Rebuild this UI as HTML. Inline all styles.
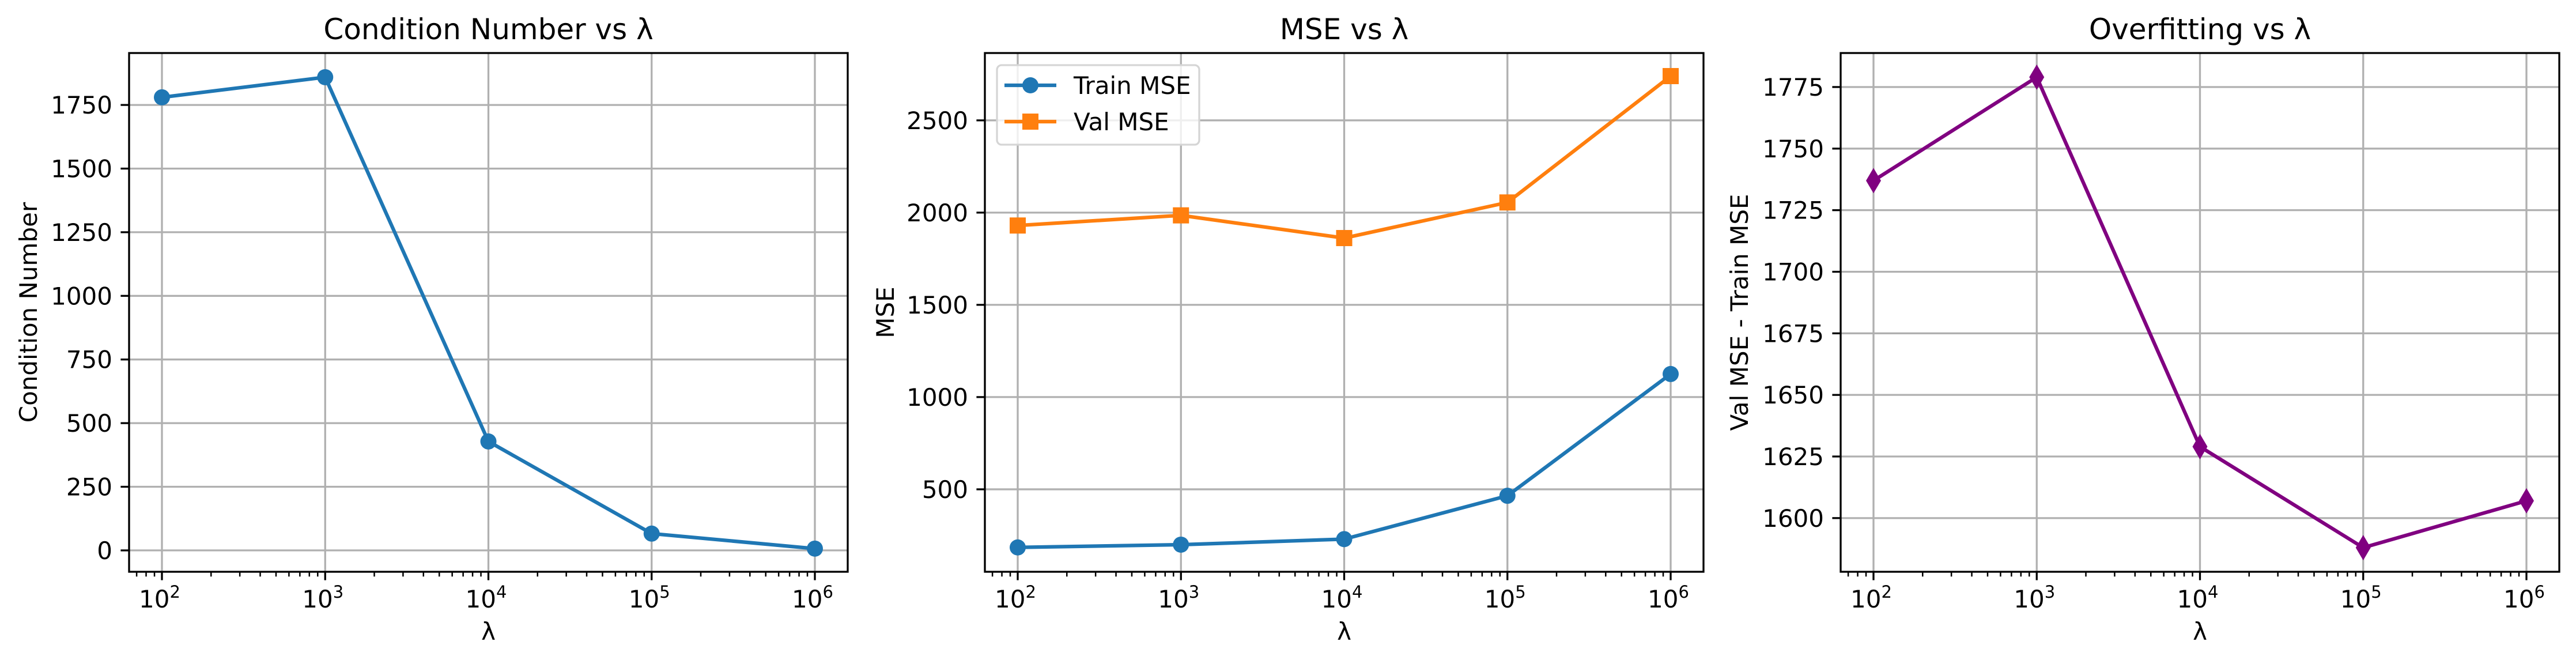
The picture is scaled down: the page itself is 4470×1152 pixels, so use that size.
<!DOCTYPE html>
<html><head><meta charset="utf-8"><style>html,body{margin:0;padding:0;background:#fff}svg{display:block}text{font-family:"DejaVu Sans","Liberation Sans",sans-serif}</style></head>
<body>
<svg id="fig" width="4470" height="1152" viewBox="0 0 4470 1152" xmlns="http://www.w3.org/2000/svg"></svg>
<script>
const lambdas = [1e2, 1e3, 1e4, 1e5, 1e6];
const condNumbers = [1780, 1859, 428, 66, 7];
const trainMSE = [185, 200, 230, 465, 1125];
const valMSE = [1930, 1985, 1862, 2055, 2740];
const overfit = [1737, 1779, 1629, 1588, 1607];
const condTicks = [0, 250, 500, 750, 1000, 1250, 1500, 1750];
const mseTicks = [500, 1000, 1500, 2000, 2500];
const overTicks = [1600, 1625, 1650, 1675, 1700, 1725, 1750, 1775];
const xTickExps = [2, 3, 4, 5, 6];

const NS = "http://www.w3.org/2000/svg";
const svg = document.getElementById('fig');
function mk(tag, attrs, parent, txt) {
  const e = document.createElementNS(NS, tag);
  for (const k in attrs) e.setAttribute(k, attrs[k]);
  if (txt !== undefined) e.textContent = txt;
  (parent || svg).appendChild(e);
  return e;
}
const TOP = 92, BOT = 992;
function panel(cfg) {
  const g = mk('g', {});
  
  
  const L = cfg.left, R = cfg.left + 1247;
  const lx0 = 2 - 0.2012, lx1 = 6 + 0.2012;
  const xs = v => L + (Math.log10(v) - lx0) / (lx1 - lx0) * (R - L);
  const ys = v => BOT - (v - cfg.ymin) / (cfg.ymax - cfg.ymin) * (BOT - TOP);
  xTickExps.forEach(e => {
    const x = xs(Math.pow(10, e));
    const gl = mk('line', {x1: x, x2: x, y1: TOP, y2: BOT, stroke: '#b0b0b0', 'stroke-width': 3.3}, g);
    
    
  });
  cfg.ticks.forEach(t => {
    const y = ys(t);
    const gl = mk('line', {x1: L, x2: R, y1: y, y2: y, stroke: '#b0b0b0', 'stroke-width': 3.3}, g);
    
    
    mk('line', {x1: L - 14.6, x2: L, y1: y, y2: y, stroke: '#000', 'stroke-width': 3.3}, g);
    const tl = mk('text', {x: L - 29, y: y + 15, 'font-size': 42, 'text-anchor': 'end'}, g, String(t));
    
    
  });
  for (let e = 1; e <= 6; e++) {
    for (let m = 2; m <= 9; m++) {
      const v = m * Math.pow(10, e);
      const x = xs(v);
      if (x < L || x > R) continue;
      mk('line', {x1: x, x2: x, y1: BOT, y2: BOT + 8.3, stroke: '#000', 'stroke-width': 2.5}, g);
    }
  }
  xTickExps.forEach(e => {
    const x = xs(Math.pow(10, e));
    mk('line', {x1: x, x2: x, y1: BOT, y2: BOT + 14.6, stroke: '#000', 'stroke-width': 3.3}, g);
    const tl = mk('text', {x: x - 4, y: 1054, 'font-size': 42, 'text-anchor': 'middle'}, g);
    
    
    mk('tspan', {}, tl, '10');
    mk('tspan', {dy: -17, 'font-size': 29}, tl, String(e));
  });
  cfg.series.forEach(s => {
    const pts = lambdas.map((l, i) => xs(l) + ',' + ys(s.vals[i])).join(' ');
    const pl = mk('polyline', {points: pts, fill: 'none', stroke: s.color, 'stroke-width': 6.25, 'stroke-linejoin': 'round'}, g);
    
    
    lambdas.forEach((l, i) => {
      const x = xs(l), y = ys(s.vals[i]);
      let m;
      if (s.marker === 'o') m = mk('circle', {cx: x, cy: y, r: 14, fill: s.color}, g);
      else if (s.marker === 's') m = mk('rect', {x: x - 14, y: y - 14, width: 28, height: 28, fill: s.color}, g);
      else m = mk('polygon', {points: `${x},${y-22} ${x+13},${y} ${x},${y+22} ${x-13},${y}`, fill: s.color}, g);
      
      
    });
  });
  const sp = mk('rect', {x: L, y: TOP, width: R - L, height: BOT - TOP, fill: 'none', stroke: '#000', 'stroke-width': 3.3}, g);
  
  
  const tt = mk('text', {x: (L + R) / 2, y: 68, 'font-size': 50, 'text-anchor': 'middle'}, g, cfg.title);
  
  
  const xl = mk('text', {x: (L + R) / 2, y: 1110, 'font-size': 42, 'text-anchor': 'middle'}, g, 'λ');
  
  
  const yc = (TOP + BOT) / 2;
  const yl = mk('text', {x: cfg.ylx, y: yc, 'font-size': 42, 'text-anchor': 'middle', transform: `rotate(-90 ${cfg.ylx} ${yc})`}, g, cfg.ylabel);
  
  
  return g;
}
panel({name: 'condition-number-panel', left: 224, ymin: -84, ymax: 1954, ticks: condTicks, title: 'Condition Number vs λ', ylabel: 'Condition Number', ylx: 64,
  series: [{name: 'condition-number', vals: condNumbers, color: '#1f77b4', marker: 'o'}]});
panel({name: 'mse-panel', left: 1709, ymin: 53, ymax: 2865, ticks: mseTicks, title: 'MSE vs λ', ylabel: 'MSE', ylx: 1551,
  series: [{name: 'val-mse', vals: valMSE, color: '#ff7f0e', marker: 's'}, {name: 'train-mse', vals: trainMSE, color: '#1f77b4', marker: 'o'}]});
panel({name: 'overfitting-panel', left: 3194, ymin: 1578.2, ymax: 1788.8, ticks: overTicks, title: 'Overfitting vs λ', ylabel: 'Val MSE - Train MSE', ylx: 3033,
  series: [{name: 'overfitting', vals: overfit, color: '#800080', marker: 'd'}]});
const lg = mk('g', {});


mk('rect', {x: 1730, y: 113, width: 351, height: 138, rx: 8, fill: 'rgba(255,255,255,0.8)', stroke: '#d5d5d5', 'stroke-width': 3.3}, lg);
mk('line', {x1: 1743, x2: 1833, y1: 148, y2: 148, stroke: '#1f77b4', 'stroke-width': 6.25}, lg);
mk('circle', {cx: 1788, cy: 148, r: 14, fill: '#1f77b4'}, lg);
const le1 = mk('text', {x: 1863, y: 163, 'font-size': 42}, lg, 'Train MSE');


mk('line', {x1: 1743, x2: 1833, y1: 211, y2: 211, stroke: '#ff7f0e', 'stroke-width': 6.25}, lg);
mk('rect', {x: 1774, y: 197, width: 28, height: 28, fill: '#ff7f0e'}, lg);
const le2 = mk('text', {x: 1863, y: 226, 'font-size': 42}, lg, 'Val MSE');


</script>
</body></html>
